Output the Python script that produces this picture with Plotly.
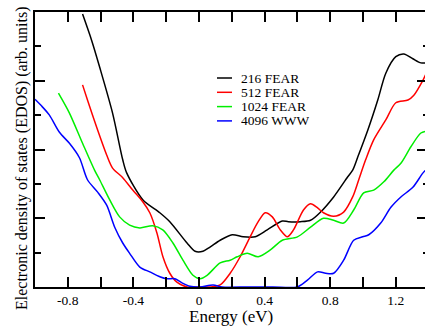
import plotly.graph_objects as go

# ---- data ----
x_216 = [-0.710, -0.655, -0.606, -0.527, -0.465, -0.441, -0.343, -0.239, -0.178, -0.073, -0.024, 0.024, 0.067, 0.129, 0.202, 0.269, 0.343, 0.416, 0.508, 0.545, 0.618, 0.680, 0.741, 0.821, 0.906, 0.937, 0.968, 1.029, 1.090, 1.139, 1.200, 1.249, 1.304, 1.353, 1.396]
y_216 = [3.97, 3.59, 3.20, 2.53, 1.85, 1.66, 1.27, 1.08, 0.95, 0.64, 0.52, 0.52, 0.58, 0.68, 0.76, 0.73, 0.73, 0.83, 0.96, 0.95, 0.95, 0.97, 1.09, 1.31, 1.60, 1.70, 1.89, 2.28, 2.72, 3.11, 3.35, 3.39, 3.32, 3.26, 3.26]

x_512 = [-0.710, -0.680, -0.625, -0.563, -0.527, -0.465, -0.404, -0.343, -0.300, -0.257, -0.220, -0.178, -0.135, -0.073, 0.0, 0.067, 0.129, 0.190, 0.251, 0.312, 0.361, 0.404, 0.447, 0.496, 0.539, 0.576, 0.637, 0.680, 0.723, 0.759, 0.821, 0.882, 0.937, 0.974, 1.016, 1.065, 1.139, 1.200, 1.274, 1.310, 1.366, 1.396]
y_512 = [2.94, 2.72, 2.33, 1.92, 1.73, 1.59, 1.41, 1.24, 1.08, 0.79, 0.44, 0.20, 0.07, 0.0, 0.0, 0.0, 0.03, 0.20, 0.44, 0.73, 0.95, 1.08, 1.02, 0.83, 0.73, 0.83, 1.12, 1.21, 1.15, 1.08, 1.03, 1.09, 1.31, 1.56, 1.85, 2.14, 2.43, 2.68, 2.72, 2.79, 3.01, 3.16]

x_1024 = [-0.857, -0.790, -0.710, -0.637, -0.606, -0.545, -0.484, -0.423, -0.361, -0.282, -0.221, -0.159, -0.098, -0.037, 0.006, 0.049, 0.129, 0.190, 0.233, 0.294, 0.361, 0.435, 0.508, 0.600, 0.680, 0.759, 0.821, 0.882, 0.943, 1.004, 1.065, 1.127, 1.188, 1.231, 1.292, 1.353, 1.396]
y_1024 = [2.82, 2.53, 2.09, 1.70, 1.56, 1.27, 1.02, 0.90, 0.86, 0.89, 0.83, 0.64, 0.39, 0.17, 0.12, 0.17, 0.35, 0.39, 0.44, 0.49, 0.44, 0.54, 0.68, 0.73, 0.87, 1.00, 0.97, 0.93, 1.12, 1.37, 1.41, 1.53, 1.70, 1.80, 2.04, 2.24, 2.27]

x_4096 = [-1.0, -0.955, -0.912, -0.851, -0.790, -0.729, -0.680, -0.618, -0.563, -0.514, -0.465, -0.423, -0.361, -0.300, -0.239, -0.196, -0.147, -0.104, -0.055, 0.006, 0.086, 0.141, 0.300, 0.450, 0.600, 0.661, 0.723, 0.772, 0.821, 0.882, 0.943, 0.998, 1.035, 1.108, 1.170, 1.231, 1.304, 1.366, 1.396]
y_4096 = [2.73, 2.62, 2.50, 2.25, 2.09, 1.88, 1.56, 1.38, 1.19, 0.87, 0.64, 0.49, 0.29, 0.22, 0.15, 0.12, 0.12, 0.06, 0.01, 0.0, 0.03, 0.0, 0.0, 0.0, 0.0, 0.10, 0.22, 0.20, 0.20, 0.39, 0.68, 0.73, 0.76, 0.93, 1.16, 1.31, 1.45, 1.66, 1.73]

series_names = ["216 FEAR", "512 FEAR", "1024 FEAR", "4096 WWW"]
series_x = [x_216, x_512, x_1024, x_4096]
series_y = [y_216, y_512, y_1024, y_4096]
colors = ["#000000", "#ff0000", "#00ee00", "#0000ff"]

x_tickvals = [-0.8, -0.4, 0, 0.4, 0.8, 1.2]
x_ticktext = ["-0.8", "-0.4", "0", "0.4", "0.8", "1.2"]

FONT = "Liberation Serif, Times New Roman, Times, DejaVu Serif, serif"

fig = go.Figure()
for name, xs, ys, c in zip(series_names, series_x, series_y, colors):
    fig.add_trace(go.Scatter(x=xs, y=ys, mode="lines", name=name,
                             line=dict(color=c, width=1.5, shape="spline", smoothing=0.8),
                             showlegend=False))

# invisible trace to carry the right-hand y axis
fig.add_trace(go.Scatter(x=[None], y=[None], yaxis="y2", showlegend=False, hoverinfo="skip"))

fig.update_layout(
    width=425, height=329,
    margin=dict(l=35, r=0, t=12, b=42),
    paper_bgcolor="white", plot_bgcolor="white",
    font=dict(family=FONT, color="black"),
    xaxis=dict(range=[-1.0, 1.378], tickvals=x_tickvals, ticktext=x_ticktext,
               ticks="inside", ticklen=10, tickwidth=2, tickcolor="black",
               minor=dict(ticks="inside", ticklen=5, tickwidth=1.5, tickcolor="black", dtick=0.2, tick0=0),
               showline=True, linewidth=2, linecolor="black", mirror="allticks",
               showgrid=False, zeroline=False,
               tickfont=dict(size=13.5, family=FONT)),
    yaxis=dict(range=[0, 4], dtick=1, ticks="inside", ticklen=10, tickwidth=2, tickcolor="black",
               minor=dict(ticks="inside", ticklen=6, tickwidth=1.5, tickcolor="black", dtick=0.5),
               showline=True, linewidth=2, linecolor="black",
               showticklabels=False, showgrid=False, zeroline=False),
    yaxis2=dict(range=[0, 4], dtick=1, overlaying="y", side="right", anchor="x",
                ticks="inside", ticklen=8, tickwidth=2, tickcolor="black",
                minor=dict(ticks="inside", ticklen=2, tickwidth=1.5, tickcolor="black", dtick=0.5),
                showline=False, showticklabels=False, showgrid=False, zeroline=False),
)

# x axis title
fig.add_annotation(text="Energy (eV)", xref="paper", yref="paper",
                   x=(231 - 35) / 390, y=(287 - 316.5) / 275,
                   xanchor="center", yanchor="middle", showarrow=False,
                   font=dict(size=17, family=FONT, color="black"))

# y axis title
fig.add_annotation(text="Electronic density of states (EDOS) (arb. units)",
                   xref="paper", yref="paper", x=(21.5 - 35) / 390, y=(287 - 158.5) / 275,
                   xanchor="center", yanchor="middle", textangle=-90, showarrow=False,
                   font=dict(size=16, family=FONT, color="black"))

# legend (custom, to match the compact Grace-style layout)
row_y = [78.0, 92.3, 106.6, 120.9]
for name, c, py in zip(series_names, colors, row_y):
    yp = (287 - py) / 275
    fig.add_shape(type="line", xref="paper", yref="paper",
                  x0=(217 - 35) / 390, x1=(232 - 35) / 390, y0=yp, y1=yp,
                  line=dict(color=c, width=1.5))
    fig.add_annotation(text=name, xref="paper", yref="paper", x=(239 - 35) / 390, y=yp,
                       xanchor="left", yanchor="middle", showarrow=False, height=13,
                       font=dict(size=13.5, family=FONT, color="black"))

fig.write_html("out.html")
